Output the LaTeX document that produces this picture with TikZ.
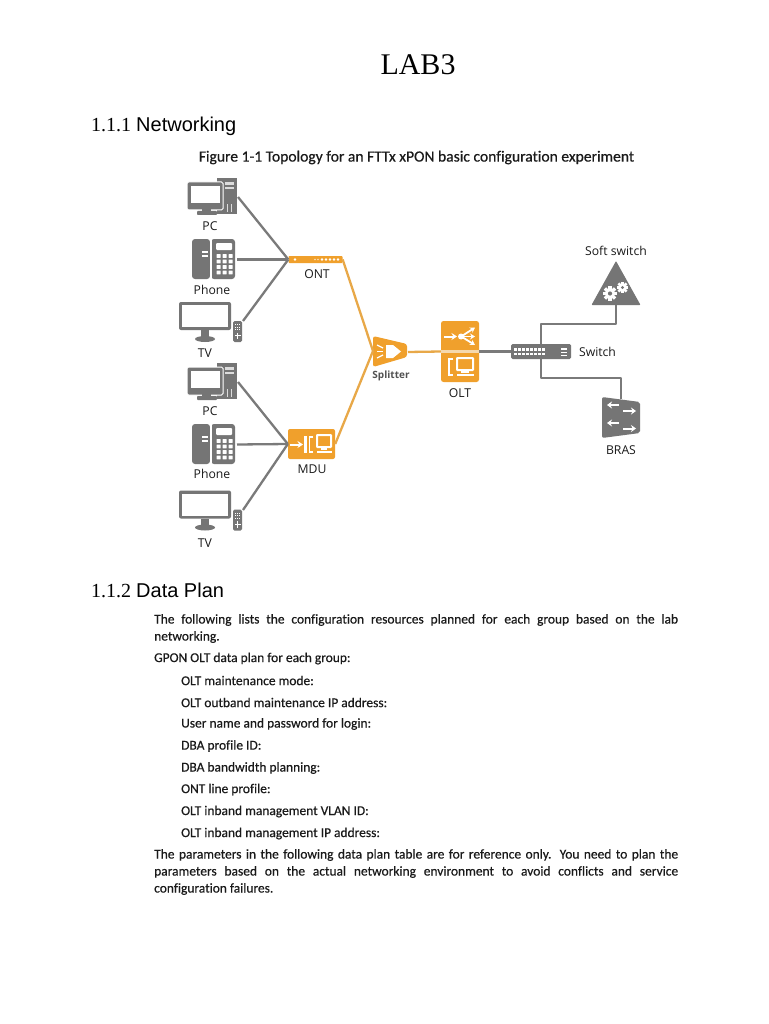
\documentclass[tikz,border=0pt]{standalone}
\usepackage{fontspec}
\setmainfont[Ligatures=NoCommon]{Carlito}
\newfontfamily\bodyF[Ligatures=NoCommon,FakeBold=0.45]{Carlito}
\newfontfamily\serifF{Liberation Serif}
\newfontfamily\headF{Liberation Sans}
\newfontfamily\labelF{Open Sans}
\usetikzlibrary{arrows.meta}
\definecolor{icongray}{HTML}{757575}
\definecolor{wiregray}{HTML}{7A7A7A}
\definecolor{iconorange}{HTML}{F0A02C}
\definecolor{wireorange}{HTML}{E8A848}
\definecolor{inktext}{HTML}{1A1A1A}
\tikzset{
  x=1pt,y=-1pt,
  graywire/.style={draw=wiregray,line width=2.3pt,line join=round},
  orangewire/.style={draw=wireorange,line width=2.3pt,line join=round},
  devlabel/.style={font=\labelF\fontsize{12.2}{14}\selectfont,text=inktext,inner sep=0pt},
  bodyline/.style={anchor=west,inner sep=0pt,text=inktext,font=\bodyF\fontsize{13.45}{15}\selectfont},
  headnum/.style={anchor=west,inner sep=0pt,text=black},
  pics/pcicon/.style={code={
    \fill[icongray] (30,0) rectangle (50,36);
    \fill[white,opacity=.75] (38,4) rectangle (47,7);
    \fill[white,opacity=.75] (38,9) rectangle (47,11);
    \fill[white,opacity=.75] (40,26) rectangle (41.2,34);
    \fill[white,opacity=.75] (43.5,26) rectangle (44.7,34);
    \filldraw[fill=icongray,draw=white,line width=1pt,rounded corners=1.5pt] (0,4) rectangle (36,32);
    \fill[white] (4,8) rectangle (33,25);
    \fill[icongray] (15,30) rectangle (24,34);
    \fill[icongray,rounded corners=.8pt] (10,33) rectangle (30,37);
  }},
  pics/phoneicon/.style={code={
    \fill[icongray,rounded corners=3pt] (0,0) rectangle (18,40);
    \fill[icongray,rounded corners=3pt] (19,0) rectangle (43,40);
    \fill[white] (18,0) rectangle (19.5,40);
    \fill[white] (10,12) rectangle (16,14);
    \fill[white] (10,16) rectangle (16,18);
    \fill[white,rounded corners=1pt] (24,4) rectangle (40,11);
    \foreach \cx in {24.5,30.5,36.5}{\foreach \cy in {15,20.5,26,31.5}{
      \fill[white,rounded corners=.5pt] (\cx,\cy) rectangle ++(4.2,3.9);}}
  }},
  pics/tvicon/.style={code={
    \fill[icongray,rounded corners=2pt] (0,0) rectangle (52,28);
    \fill[white] (3,3) rectangle (49,25);
    \fill[icongray] (22,28) rectangle (30,34);
    \fill[icongray] (26,37) ellipse (10 and 3);
    \fill[icongray,rounded corners=1.5pt] (54,19) rectangle (63,40);
    \foreach \cx in {56,58,60}{\foreach \cy in {22,24.5,27}{
      \fill[white] (\cx,\cy) rectangle ++(1.3,1.3);}}
    \fill[white] (57.8,30.5) rectangle (59.2,37);
    \fill[white] (55.5,33) rectangle (61.5,34.4);
  }},
  pics/gearicon/.style={code={
    \foreach \a in {0,45,...,315}{
      \fill[white,rotate=\a] (-.34*#1,0) rectangle (.34*#1,1.42*#1);}
    \fill[white] (0,0) circle (#1);
    \fill[icongray] (0,0) circle (.42*#1);
  }}
}
\newcommand{\jline}[1]{\makebox[524pt][s]{#1}}
\begin{document}
\begin{tikzpicture}
\useasboundingbox (0,0) rectangle (768,1024);
\fill[white] (0,0) rectangle (768,1024);

% headings
\node[inner sep=0pt,font=\serifF\fontsize{30}{32}\selectfont] (title) at (418,65) {LAB3};
\node[headnum] (h1) at (91,126) {\fontsize{20}{22}\selectfont\serifF 1.1.1 \headF Networking};
\node[inner sep=0pt,text=inktext,font=\bodyF\fontsize{15.6}{17}\selectfont] (cap) at (416.5,157.5) {Figure 1-1 Topology for an FTTx xPON basic configuration experiment};
\node[headnum] (h2) at (91,590) {\fontsize{20}{22}\selectfont\serifF 1.1.2 \headF Data Plan};

% left icons
\pic at (187,178) {pcicon};
\pic at (192,239) {phoneicon};
\pic at (179,302) {tvicon};
\pic at (187,363) {pcicon};
\pic at (192,424) {phoneicon};
\pic at (179,490.5) {tvicon};
\coordinate (pcA) at (238,197);
\coordinate (phA) at (237,259.5);
\coordinate (tvA) at (243,321);
\coordinate (pcB) at (238,382);
\coordinate (phB) at (237,444.5);
\coordinate (tvB) at (243,510);

% access devices
\node[fill=iconorange,rounded corners=.8pt,minimum width=54pt,minimum height=7pt,inner sep=0pt] (ont) at (315.5,259.5) {};
\fill[white] (295,259.5) circle (1.3);
\foreach \cx in {315,318}{\fill[white,opacity=.7] (\cx,259.5) circle (.9);}
\foreach \cx in {322,326,330,334,338}{\fill[white] (\cx,259.5) circle (1.4);}
\node[fill=iconorange,rounded corners=2pt,minimum width=47pt,minimum height=30pt,inner sep=0pt] (mdu) at (311.5,444) {};
\draw[white,line width=2pt,-{Stealth[length=5.5pt,width=7pt]}] (290,444.5) -- (303,444.5);
\fill[white] (303.5,436) rectangle (306.5,453);
\draw[white,line width=1.8pt] (313,437) -- (309.5,437) -- (309.5,452) -- (313,452);
\draw[white,line width=2pt,rounded corners=.5pt] (317,435) rectangle (331,447);
\fill[white] (321,447) rectangle (327,450);
\fill[white] (317,451) rectangle (332,453);

% splitter
\fill[iconorange,rounded corners=2.5pt] (373,336) -- (407,344) -- (407,357) -- (373,367) -- cycle;
\coordinate (splL) at (373,351);
\coordinate (splR) at (408,352);
\fill[white] (386,345) -- (393,345) -- (401,351.5) -- (393,358) -- (386,358) -- cycle;
\draw[white,line width=1.3pt] (377,345) -- (383,348);
\draw[white,line width=1.3pt] (377,351.5) -- (383,351.5);
\draw[white,line width=1.3pt] (377,358) -- (383,355);

% OLT
\node[fill=iconorange,rounded corners=2.5pt,minimum width=38pt,minimum height=61pt,inner sep=0pt] (olt) at (460,351.5) {};
\fill[wireorange!45!white] (441,350) rectangle (479,352.6);
\draw[white,line width=2pt,-{Stealth[length=5.5pt,width=7pt]}] (444,336.5) -- (457,336.5);
\fill[white] (461,336.5) circle (3);
\draw[white,line width=1.8pt,-{Stealth[length=5pt,width=6pt]}] (462,336) -- (475,327.5);
\draw[white,line width=1.8pt,-{Stealth[length=5pt,width=6pt]}] (462,336.5) -- (475,336.5);
\draw[white,line width=1.8pt,-{Stealth[length=5pt,width=6pt]}] (462,337) -- (475,345);
\draw[white,line width=1.8pt] (453,359) -- (449,359) -- (449,375) -- (453,375);
\draw[white,line width=2pt,rounded corners=.5pt] (457,358) rectangle (473,370);
\fill[white] (461,370) rectangle (469,373);
\fill[white] (457,374) rectangle (474,376);

% switch
\node[fill=icongray,rounded corners=1.5pt,minimum width=60pt,minimum height=15pt,inner sep=0pt] (sw) at (541,351.5) {};
\foreach \cx in {514,518,...,542}{\fill[white] (\cx,348.3) rectangle ++(2.6,2.3); \fill[white] (\cx,352.5) rectangle ++(2.6,2.3);}
\fill[white] (561,348) rectangle (567,350);
\fill[white] (561,352) rectangle (567,353.3);
\fill[white] (561,355) rectangle (567,355.8);
\coordinate (swU) at (541,344);
\coordinate (swD) at (541,359);

% soft switch
\fill[icongray,rounded corners=.8pt] (616,261) -- (640.5,305) -- (591.5,305) -- cycle;
\coordinate (ssB) at (616,305);
\pic at (610,293.5) {gearicon=5};
\pic at (622.5,287.5) {gearicon=4};

% BRAS
\fill[icongray,rounded corners=2pt] (602,397) -- (640,402) -- (640,433) -- (602,438) -- cycle;
\coordinate (brT) at (621,399);
\draw[white,line width=2pt,-{Stealth[length=5pt,width=7pt]}] (619,405) -- (607,405);
\draw[white,line width=2pt,-{Stealth[length=5pt,width=7pt]}] (619,423) -- (607,423);
\draw[white,line width=2pt,-{Stealth[length=5pt,width=7pt]}] (623,411) -- (636,411);
\draw[white,line width=2pt,-{Stealth[length=5pt,width=7pt]}] (623,428.5) -- (636,428.5);

% connectors
\draw[graywire] (pcA) -- (ont.west);
\draw[graywire] (phA) -- (ont.west);
\draw[graywire] (tvA) -- (ont.west);
\draw[graywire] (pcB) -- (mdu.west);
\draw[graywire] (phB) -- (mdu.west);
\draw[graywire] (tvB) -- (mdu.west);
\draw[orangewire] (ont.east) -- (splL);
\draw[orangewire] (mdu.east) -- (splL);
\draw[orangewire] (splR) -- (olt.west);
\draw[graywire] (olt.east) -- (sw.west);
\draw[graywire] (swU) -- ++(0,-20) -| (ssB);
\draw[graywire] (swD) -- ++(0,19) -| (brT);

% device labels
\node[devlabel] (lpc1) at (210,226) {PC};
\node[devlabel] (lph1) at (212,290) {Phone};
\node[devlabel] (ltv1) at (205,353) {TV};
\node[devlabel] (lpc2) at (210,411) {PC};
\node[devlabel] (lph2) at (212,474) {Phone};
\node[devlabel] (ltv2) at (205,543) {TV};
\node[devlabel] (lont) at (317,274) {ONT};
\node[devlabel] (lmdu) at (312,469) {MDU};
\node[devlabel,font=\labelF\fontsize{10}{12}\selectfont\bfseries,text=icongray!70!black] (lspl) at (391,376) {Splitter};
\node[devlabel] (lolt) at (460,393) {OLT};
\node[devlabel] (lsw) at (597.5,352) {Switch};
\node[devlabel] (lss) at (616,251) {Soft switch};
\node[devlabel] (lbr) at (621,450) {BRAS};

% body text
\node[bodyline] (b1) at (154,620) {\jline{The following lists the configuration resources planned for each group based on the lab}};
\node[bodyline] (b2) at (154,637) {networking.};
\node[bodyline] (b3) at (154,658.5) {GPON OLT data plan for each group:};
\node[bodyline] (b4) at (181,680.5) {OLT maintenance mode:};
\node[bodyline] (b5) at (181,702.5) {OLT outband maintenance IP address:};
\node[bodyline] (b6) at (181,724) {User name and password for login:};
\node[bodyline] (b7) at (181,746) {DBA profile ID:};
\node[bodyline] (b8) at (181,768) {DBA bandwidth planning:};
\node[bodyline] (b9) at (181,789.5) {ONT line profile:};
\node[bodyline] (b10) at (181,811.5) {OLT inband management VLAN ID:};
\node[bodyline] (b11) at (181,833.5) {OLT inband management IP address:};
\node[bodyline] (b12) at (154,855) {\jline{The parameters in the following data plan table are for reference only. You need to plan the}};
\node[bodyline] (b13) at (154,872) {\jline{parameters based on the actual networking environment to avoid conflicts and service}};
\node[bodyline] (b14) at (154,889) {configuration failures.};
\end{tikzpicture}
\end{document}
